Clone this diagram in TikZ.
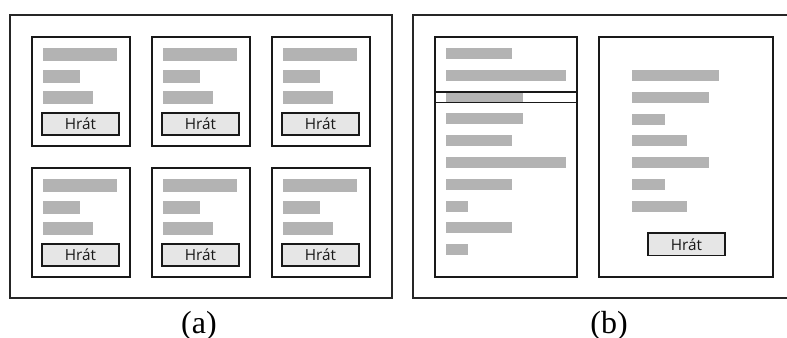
\documentclass[tikz,border=0pt]{standalone}
\usepackage{fontspec}
\usetikzlibrary{calc}
\setmainfont{Liberation Serif}
\newfontfamily\btnfont{Open Sans}
\definecolor{bargray}{HTML}{B3B3B3}
\definecolor{btngray}{HTML}{E6E6E6}
\definecolor{linegray}{HTML}{262626}
\begin{document}
\begin{tikzpicture}[x=0.75pt,y=-0.75pt,
  frame/.style={draw=linegray,line width=1.2pt},
  card/.style={draw=black!90,line width=1.2pt},
  bar/.style={fill=bargray,draw=none},
  btn/.style={draw=black!90,line width=1.2pt,fill=btngray},
  btntext/.style={font=\btnfont\fontsize{11.5}{13}\selectfont,text=black!90,inner sep=0pt},
  caption/.style={font=\fontsize{24}{28}\selectfont,inner sep=0pt,anchor=base}]
\useasboundingbox (0,0) rectangle (787,338);
% ---------- panel (a)
\draw[frame] (10,15) rectangle (392,298);
\foreach \cx/\i in {32/1,152/2,272/3}{
  \foreach \cy/\j in {37/1,168/2}{
    \draw[card] (\cx,\cy) rectangle ++(98,109);
    \fill[bar] ($(\cx,\cy)+(11,11)$) rectangle ++(74,13);
    \fill[bar] ($(\cx,\cy)+(11,33)$) rectangle ++(37,13);
    \fill[bar] ($(\cx,\cy)+(10.5,54)$) rectangle ++(50,13);
    \draw[btn] ($(\cx,\cy)+(10,76)$) rectangle ++(77,22)
      node[btntext,midway] (btn-\i-\j) {Hrát};
  }
}
\node[caption] (capa) at (199,333) {(a)};
% ---------- panel (b)
\draw[frame] (789,15) -- (413,15) -- (413,298) -- (789,298);
\draw[card] (435,37) rectangle (577,277);
\foreach \e [count=\k from 0] in {512,566,523,523,512,566,512,468,512,468}{
  \fill[bar] (446,{48+21.8*\k}) rectangle (\e,{59+21.8*\k});
}
\draw[card] (435,91.8) rectangle (577,102.6);
\draw[card] (599,37) rectangle (773,277);
\foreach \e [count=\k from 0] in {719,709,665,687,709,665,687}{
  \fill[bar] (632,{70+21.8*\k}) rectangle (\e,{81+21.8*\k});
}
\draw[btn] (648,233) rectangle (725,255.5) node[btntext,midway] (btnb) {Hrát};
\node[caption] (capb) at (609,333) {(b)};
\end{tikzpicture}
\end{document}
